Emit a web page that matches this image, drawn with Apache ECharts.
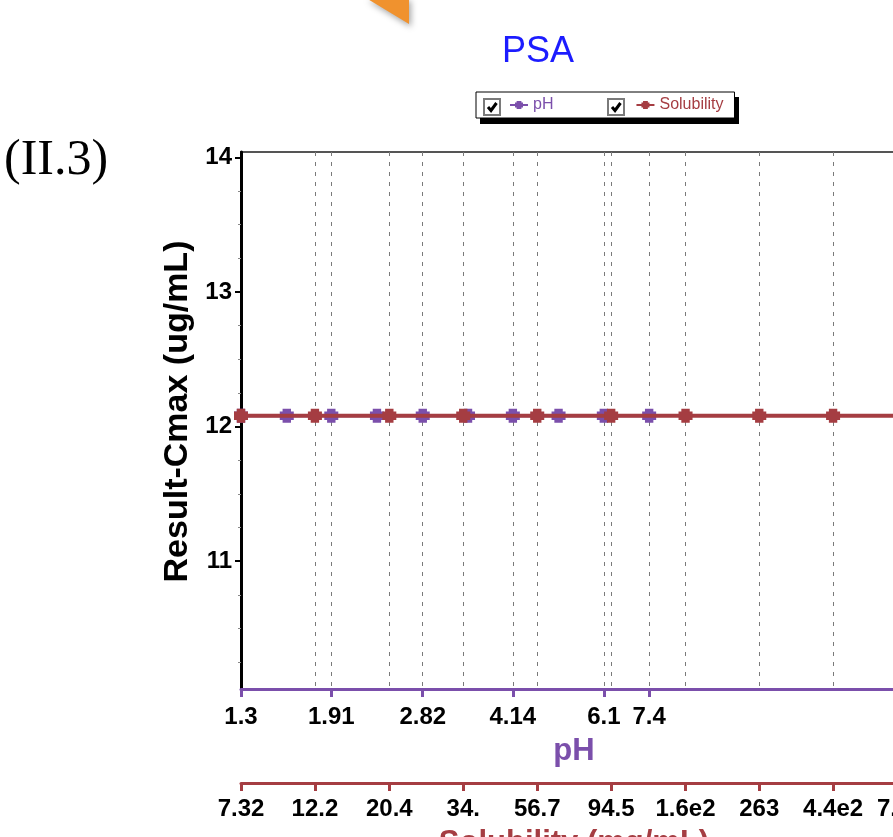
<!DOCTYPE html>
<html>
<head>
<meta charset="utf-8">
<script src="https://cdn.jsdelivr.net/npm/echarts@6/dist/echarts.min.js"></script>
<style>
  html, body { margin: 0; padding: 0; background: #fff; overflow: hidden; }
  #chart { width: 893px; height: 837px; }
</style>
</head>
<body>
<div id="chart"></div>
<script>
// pH sweep (purple) and solubility sweep (red), both giving the same Cmax
var phValues = [1.3, 1.58, 1.91, 2.32, 2.82, 3.42, 4.14, 5.03, 6.1, 7.4];
var phCmax = [12.08, 12.08, 12.08, 12.08, 12.08, 12.08, 12.08, 12.08, 12.08, 12.08];
var solValues = [7.32, 12.2, 20.4, 34.0, 56.7, 94.5, 158, 263, 438, 730];
var solCmax = [12.08, 12.08, 12.08, 12.08, 12.08, 12.08, 12.08, 12.08, 12.08, 12.08];

var phTicks = [1.3, 1.91, 2.82, 4.14, 6.1, 7.4];
var phTickLabels = ['1.3', '1.91', '2.82', '4.14', '6.1', '7.4'];
var solTicks = [7.32, 12.2, 20.4, 34.0, 56.7, 94.5, 158, 263, 438, 730];
var solTickLabels = ['7.32', '12.2', '20.4', '34.', '56.7', '94.5', '1.6e2', '263', '4.4e2', '7.3e2'];
var yTicks = [11, 12, 13, 14];
var yMinorTicks = [10.25, 10.5, 10.75, 11.25, 11.5, 11.75, 12.25, 12.5, 12.75, 13.25, 13.5, 13.75];

var purple = '#7b4fab';
var red = '#a53d42';
var markerPath = 'path://M2,0H8V2H10V8H8V10H2V8H0V2H2Z';

function pickLabel(ticks, labels) {
  return function (v) {
    var best = 0;
    for (var i = 1; i < ticks.length; i++) {
      if (Math.abs(Math.log(ticks[i] / v)) < Math.abs(Math.log(ticks[best] / v))) best = i;
    }
    return labels[best];
  };
}

function zip(xs, ys) {
  return xs.map(function (x, i) { return [x, ys[i]]; });
}

var chart = echarts.init(document.getElementById('chart'));

var labelFont = { fontFamily: 'Liberation Sans', fontWeight: 'bold', fontSize: 24, color: '#000' };

function checkbox(x, y) {
  return {
    type: 'group',
    left: x,
    top: y,
    z: 100,
    children: [
      { type: 'rect', z: 100, shape: { x: 0, y: 0, width: 16, height: 16 }, style: { fill: '#fff', stroke: '#7a7a7a', lineWidth: 2 } },
      { type: 'polyline', z: 101, shape: { points: [[4, 8], [7, 11.5], [12.5, 4]] }, style: { stroke: '#000', lineWidth: 3, fill: null } }
    ]
  };
}

chart.setOption({
  animation: false,
  title: {
    text: 'PSA',
    left: 502,
    top: 34,
    padding: 0,
    textStyle: { color: '#1c1cff', fontSize: 36, fontWeight: 'normal', fontFamily: 'Liberation Sans' }
  },
  legend: {
    left: 476,
    top: 92,
    padding: [5, 11, 5, 33],
    itemGap: 82,
    itemWidth: 18,
    itemHeight: 10,
    backgroundColor: '#fff',
    borderColor: '#000',
    borderWidth: 1,
    textStyle: { fontFamily: 'Liberation Sans', fontSize: 16 },
    data: [
      { name: 'pH', textStyle: { color: purple } },
      { name: 'Solubility', textStyle: { color: red } }
    ]
  },
  grid: {
    left: 241,
    top: 152,
    width: 666,
    height: 537,
    outerBoundsMode: 'none',
    containLabel: false,
    show: true,
    borderColor: '#555',
    borderWidth: 2,
    backgroundColor: 'transparent'
  },
  xAxis: [
    {
      type: 'log',
      position: 'bottom',
      min: 1.3,
      max: 22.2,
      axisLine: { lineStyle: { color: purple, width: 3 } },
      axisTick: { customValues: phTicks, length: 8, lineStyle: { color: purple, width: 3 } },
      axisLabel: Object.assign({ customValues: phTicks, margin: 16, formatter: pickLabel(phTicks, phTickLabels) }, labelFont),
      minorTick: { show: false },
      splitLine: { show: true, lineStyle: { color: '#7a7a7a', type: [4, 6], width: 1 } },
      name: 'pH',
      nameLocation: 'middle',
      nameGap: 47,
      nameTextStyle: { color: purple, fontFamily: 'Liberation Sans', fontWeight: 'bold', fontSize: 31 }
    },
    {
      type: 'log',
      position: 'bottom',
      offset: 94,
      min: 7.32,
      max: 730,
      axisLine: { lineStyle: { color: red, width: 3 } },
      axisTick: { customValues: solTicks, length: 8, lineStyle: { color: red, width: 3 } },
      axisLabel: Object.assign({ customValues: solTicks, margin: 14, formatter: pickLabel(solTicks, solTickLabels) }, labelFont),
      splitLine: { show: true, lineStyle: { color: '#7a7a7a', type: [4, 6], width: 1 } },
      name: 'Solubility (mg/mL)',
      nameLocation: 'middle',
      nameGap: 45,
      nameTextStyle: { color: red, fontFamily: 'Liberation Sans', fontWeight: 'bold', fontSize: 31 }
    }
  ],
  yAxis: [
    {
      type: 'value',
      min: 10.05,
      max: 14.04,
      axisLine: { show: true, lineStyle: { color: '#000', width: 3 } },
      axisTick: { show: true, customValues: yTicks, length: 6, lineStyle: { color: '#000', width: 2 } },
      axisLabel: Object.assign({ customValues: yTicks, margin: 9 }, labelFont),
      splitLine: { show: false },
      name: 'Result-Cmax (ug/mL)',
      nameLocation: 'middle',
      nameGap: 43,
      nameTextStyle: {
        color: '#000', fontFamily: 'Liberation Sans', fontWeight: 'bold', fontSize: 34,
        padding: [0, 0, 0, 18]
      }
    },
    {
      type: 'value',
      position: 'left',
      min: 10.05,
      max: 14.04,
      axisLine: { show: false },
      axisTick: { show: true, customValues: yMinorTicks, length: 3, lineStyle: { color: '#888', width: 1 } },
      axisLabel: { show: false },
      splitLine: { show: false }
    }
  ],
  series: [
    {
      name: 'pH',
      type: 'line',
      xAxisIndex: 0,
      yAxisIndex: 0,
      data: zip(phValues, phCmax),
      symbol: markerPath,
      symbolSize: 14,
      itemStyle: { color: purple },
      lineStyle: { color: purple, width: 3 },
      z: 2
    },
    {
      name: 'Solubility',
      type: 'line',
      xAxisIndex: 1,
      yAxisIndex: 0,
      data: zip(solValues, solCmax),
      symbol: markerPath,
      symbolSize: 14,
      itemStyle: { color: red },
      lineStyle: { color: red, width: 4 },
      z: 3
    }
  ],
  graphic: [
    {
      type: 'polygon',
      shape: { points: [[366, -2], [409, -2], [409, 24]] },
      style: { fill: '#f0922e', shadowBlur: 6, shadowColor: 'rgba(0,0,0,0.35)', shadowOffsetX: 2, shadowOffsetY: 3 }
    },
    {
      type: 'text',
      left: 4,
      top: 136,
      style: { text: '(II.3)', font: '50px "Liberation Serif"', fill: '#000' }
    },
    // legend drop shadow
    {
      type: 'rect',
      z: 1,
      shape: { x: 480, y: 97, width: 259, height: 27 },
      style: { fill: '#000' }
    },
    checkbox(483, 98),
    checkbox(607, 98)
  ]
});
</script>
</body>
</html>
